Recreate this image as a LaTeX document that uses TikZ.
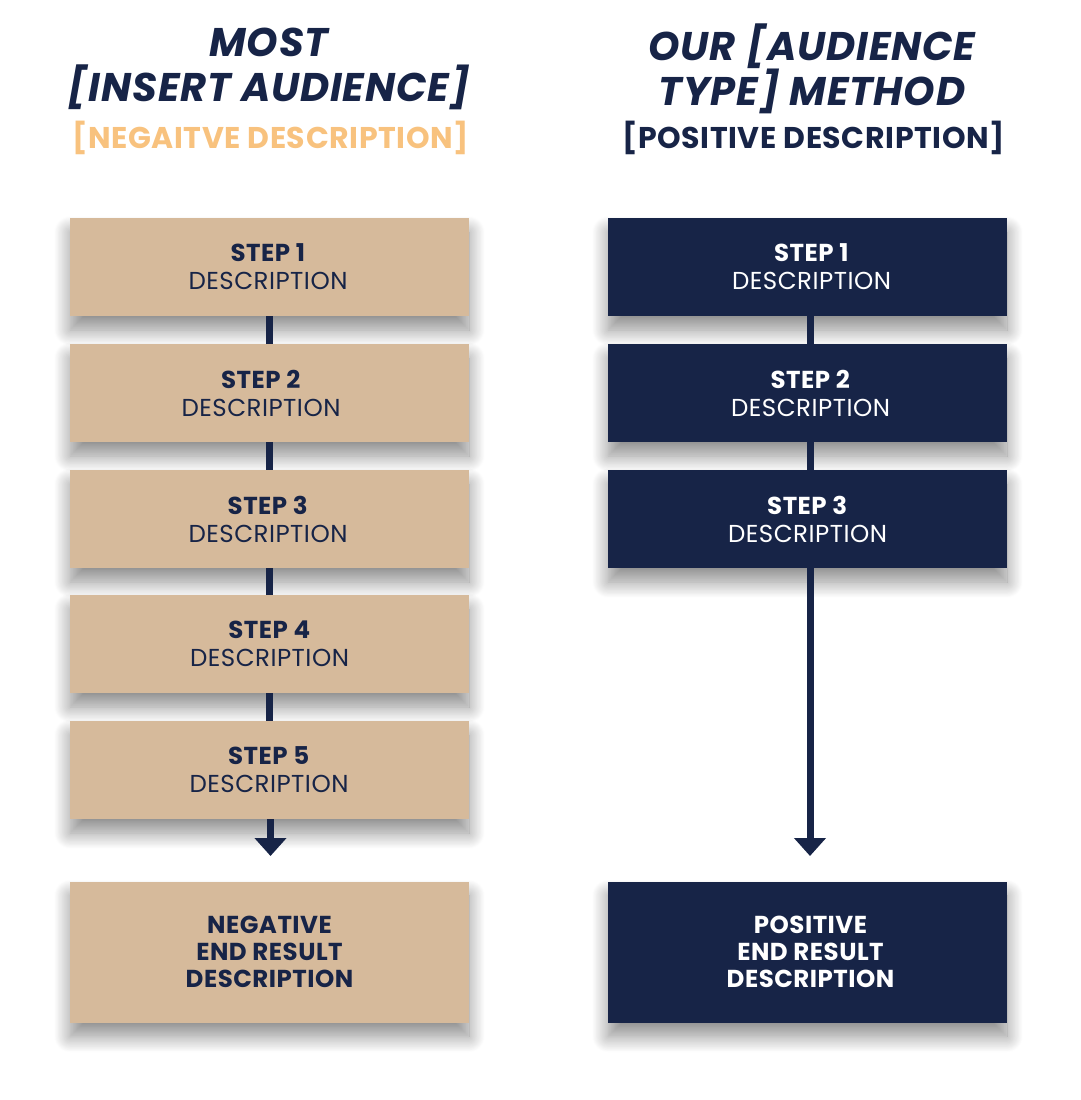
\documentclass[tikz,border=0pt]{standalone}
\usepackage{fontspec}
\setmainfont{Poppins}[LetterSpace=2]
\usetikzlibrary{shadows.blur,arrows.meta}
\definecolor{navy}{HTML}{172447}
\definecolor{tan}{HTML}{D6BA9B}
\definecolor{peach}{HTML}{F8C27E}
\tikzset{
  box/.style={rectangle, minimum width=399pt, minimum height=98pt, inner sep=0pt,
    blur shadow={shadow xshift=0pt, shadow yshift=-14pt, shadow blur radius=16pt, shadow blur steps=20, shadow opacity=45}},
  negbox/.style={box, fill=tan},
  posbox/.style={box, fill=navy},
  endbox/.style={minimum height=141pt},
  txt/.style={align=center, font=\fontsize{24.5}{28}\selectfont},
  endtxt/.style={align=center, font=\fontsize{24.5}{27}\selectfont\bfseries},
  link/.style={line width=7pt, draw=navy},
  ttl/.style={align=center, text=navy, font=\fontsize{40}{45}\selectfont\bfseries\itshape},
  sub/.style={align=center, font=\fontsize{30}{34}\selectfont\bfseries},
}
\begin{document}
\begin{tikzpicture}[x=1pt,y=-1pt]
\useasboundingbox (0,0) rectangle (1080,1100);
% titles
\node[ttl] (tl) at (269,69) {MOST\\\relax[INSERT AUDIENCE]};
\node[sub, text=peach] (sl) at (270.5,138) {[NEGAITVE DESCRIPTION]};
\node[ttl] (tr) at (812,69) {OUR [AUDIENCE\\TYPE] METHOD};
\node[sub, text=navy] (sr) at (813.5,138) {[POSITIVE DESCRIPTION]};
% left column
\node[negbox, label={[txt,text=navy,xshift=-1.5pt]center:{\textbf{STEP 1}\\DESCRIPTION}}] (l1) at (269.5,267) {};
\node[negbox, label={[txt,text=navy,xshift=-8.5pt]center:{\textbf{STEP 2}\\DESCRIPTION}}] (l2) at (269.5,393) {};
\node[negbox, label={[txt,text=navy,xshift=-1.5pt]center:{\textbf{STEP 3}\\DESCRIPTION}}] (l3) at (269.5,519) {};
\node[negbox, label={[txt,text=navy,xshift=0pt]center:{\textbf{STEP 4}\\DESCRIPTION}}] (l4) at (269.5,644) {};
\node[negbox, label={[txt,text=navy,xshift=-0.5pt]center:{\textbf{STEP 5}\\DESCRIPTION}}] (l5) at (269.5,770) {};
\node[negbox, endbox, label={[endtxt,text=navy]center:{NEGATIVE\\END RESULT\\DESCRIPTION}}] (l6) at (269.5,952) {};
% right column
\node[posbox, label={[txt,text=white,xshift=4pt]center:{\textbf{STEP 1}\\DESCRIPTION}}] (r1) at (807.5,267) {};
\node[posbox, label={[txt,text=white,xshift=3pt]center:{\textbf{STEP 2}\\DESCRIPTION}}] (r2) at (807.5,393) {};
\node[posbox, label={[txt,text=white,xshift=0pt]center:{\textbf{STEP 3}\\DESCRIPTION}}] (r3) at (807.5,519) {};
\node[posbox, endbox, label={[endtxt,text=white,xshift=3pt]center:{POSITIVE\\END RESULT\\DESCRIPTION}}] (r6) at (807.5,952) {};
% connectors
\draw[link] (l1.south) -- (l2.north);
\draw[link] (l2.south) -- (l3.north);
\draw[link] (l3.south) -- (l4.north);
\draw[link] (l4.south) -- (l5.north);
\coordinate (la) at (270.5,856);
\draw[link, -{Triangle[width=31pt,length=18pt]}] (l5.south -| la) -- (la);
\coordinate (rt) at (810,316);
\draw[link] (rt) -- (r2.north -| rt);
\draw[link] (r2.south -| rt) -- (r3.north -| rt);
\coordinate (ra) at (810,856);
\draw[link, -{Triangle[width=31pt,length=18pt]}] (r3.south -| ra) -- (ra);
\end{tikzpicture}
\end{document}
